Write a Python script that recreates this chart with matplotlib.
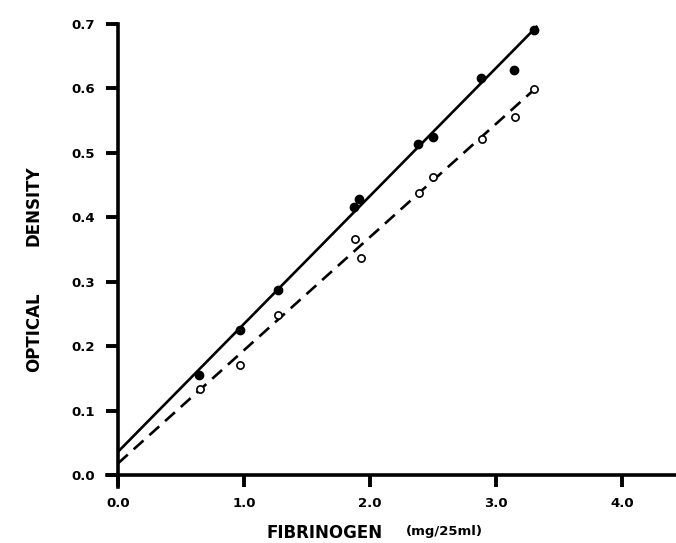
import matplotlib.pyplot as plt

# filled circles (solid line)
fib_filled = [0.645, 0.97, 1.27, 1.875, 1.91, 2.38, 2.50, 2.88, 3.14, 3.30]
od_filled = [0.155, 0.225, 0.287, 0.416, 0.428, 0.514, 0.524, 0.616, 0.629, 0.691]

# open circles (dashed line)
fib_open = [0.65, 0.97, 1.27, 1.88, 1.93, 2.39, 2.50, 2.89, 3.15, 3.30]
od_open = [0.133, 0.171, 0.249, 0.366, 0.337, 0.438, 0.462, 0.521, 0.555, 0.599]

# fitted lines, end points
solid_x = [0.0, 3.33]
solid_y = [0.036, 0.697]
dashed_x = [0.0, 3.36]
dashed_y = [0.018, 0.608]

xticks = [0, 1, 2, 3, 4]
yticks = [0.0, 0.1, 0.2, 0.3, 0.4, 0.5, 0.6, 0.7]

plt.rcParams["font.family"] = ["DejaVu Sans"]

W, H = 676, 543
fig = plt.figure(figsize=(W / 100, H / 100), dpi=100)
# axes box: x from -0.087 (px 107) to 4.43 (px 676), y from -0.0186 (px 487) to 0.7 (px 24)
ax = fig.add_axes([107 / W, (H - 487) / H, (W - 107) / W, (487 - 24) / H])

ax.plot(solid_x, solid_y, color="black", lw=1.9, solid_capstyle="butt")
ax.plot(dashed_x, dashed_y, color="black", lw=1.9, dashes=(5, 3))
ax.plot(fib_filled, od_filled, "o", color="black", ms=6)
ax.plot(fib_open, od_open, "o", mfc="white", mec="black", mew=1.2, ms=5.2)

ax.set_xlim(-0.087, 4.43)
ax.set_ylim(-0.0186, 0.7)
ax.spines["left"].set_position(("data", 0))
ax.spines["bottom"].set_position(("data", 0))
ax.spines["left"].set_bounds(-0.0186, 0.7)
ax.spines["bottom"].set_bounds(-0.087, 4.43)
for s in ["left", "bottom"]:
    ax.spines[s].set_linewidth(2.6)
ax.spines["top"].set_visible(False)
ax.spines["right"].set_visible(False)

ax.set_xticks(xticks)
ax.set_xticklabels([f"{v:.1f}" for v in xticks])
ax.set_yticks(yticks)
ax.set_yticklabels([f"{v:.1f}" for v in yticks])
ax.tick_params(axis="both", direction="out", length=8.5, width=2.8,
               labelsize=9.5)
ax.tick_params(axis="x", pad=7)
ax.tick_params(axis="y", pad=8)
for lab in ax.get_xticklabels() + ax.get_yticklabels():
    lab.set_fontweight("bold")

fig.text(34 / W, 1 - 332 / H, "OPTICAL", rotation=90,
         ha="center", va="center", fontsize=12, fontweight="bold")
fig.text(34 / W, 1 - 206 / H, "DENSITY", rotation=90,
         ha="center", va="center", fontsize=12, fontweight="bold")
fig.text(325 / W, 1 - 533 / H, "FIBRINOGEN", ha="center", va="center",
         fontsize=12, fontweight="bold")
fig.text(444 / W, 1 - 532 / H, "(mg/25ml)", ha="center", va="center",
         fontsize=9.5, fontweight="bold")

fig.savefig("out.png", dpi=100)
